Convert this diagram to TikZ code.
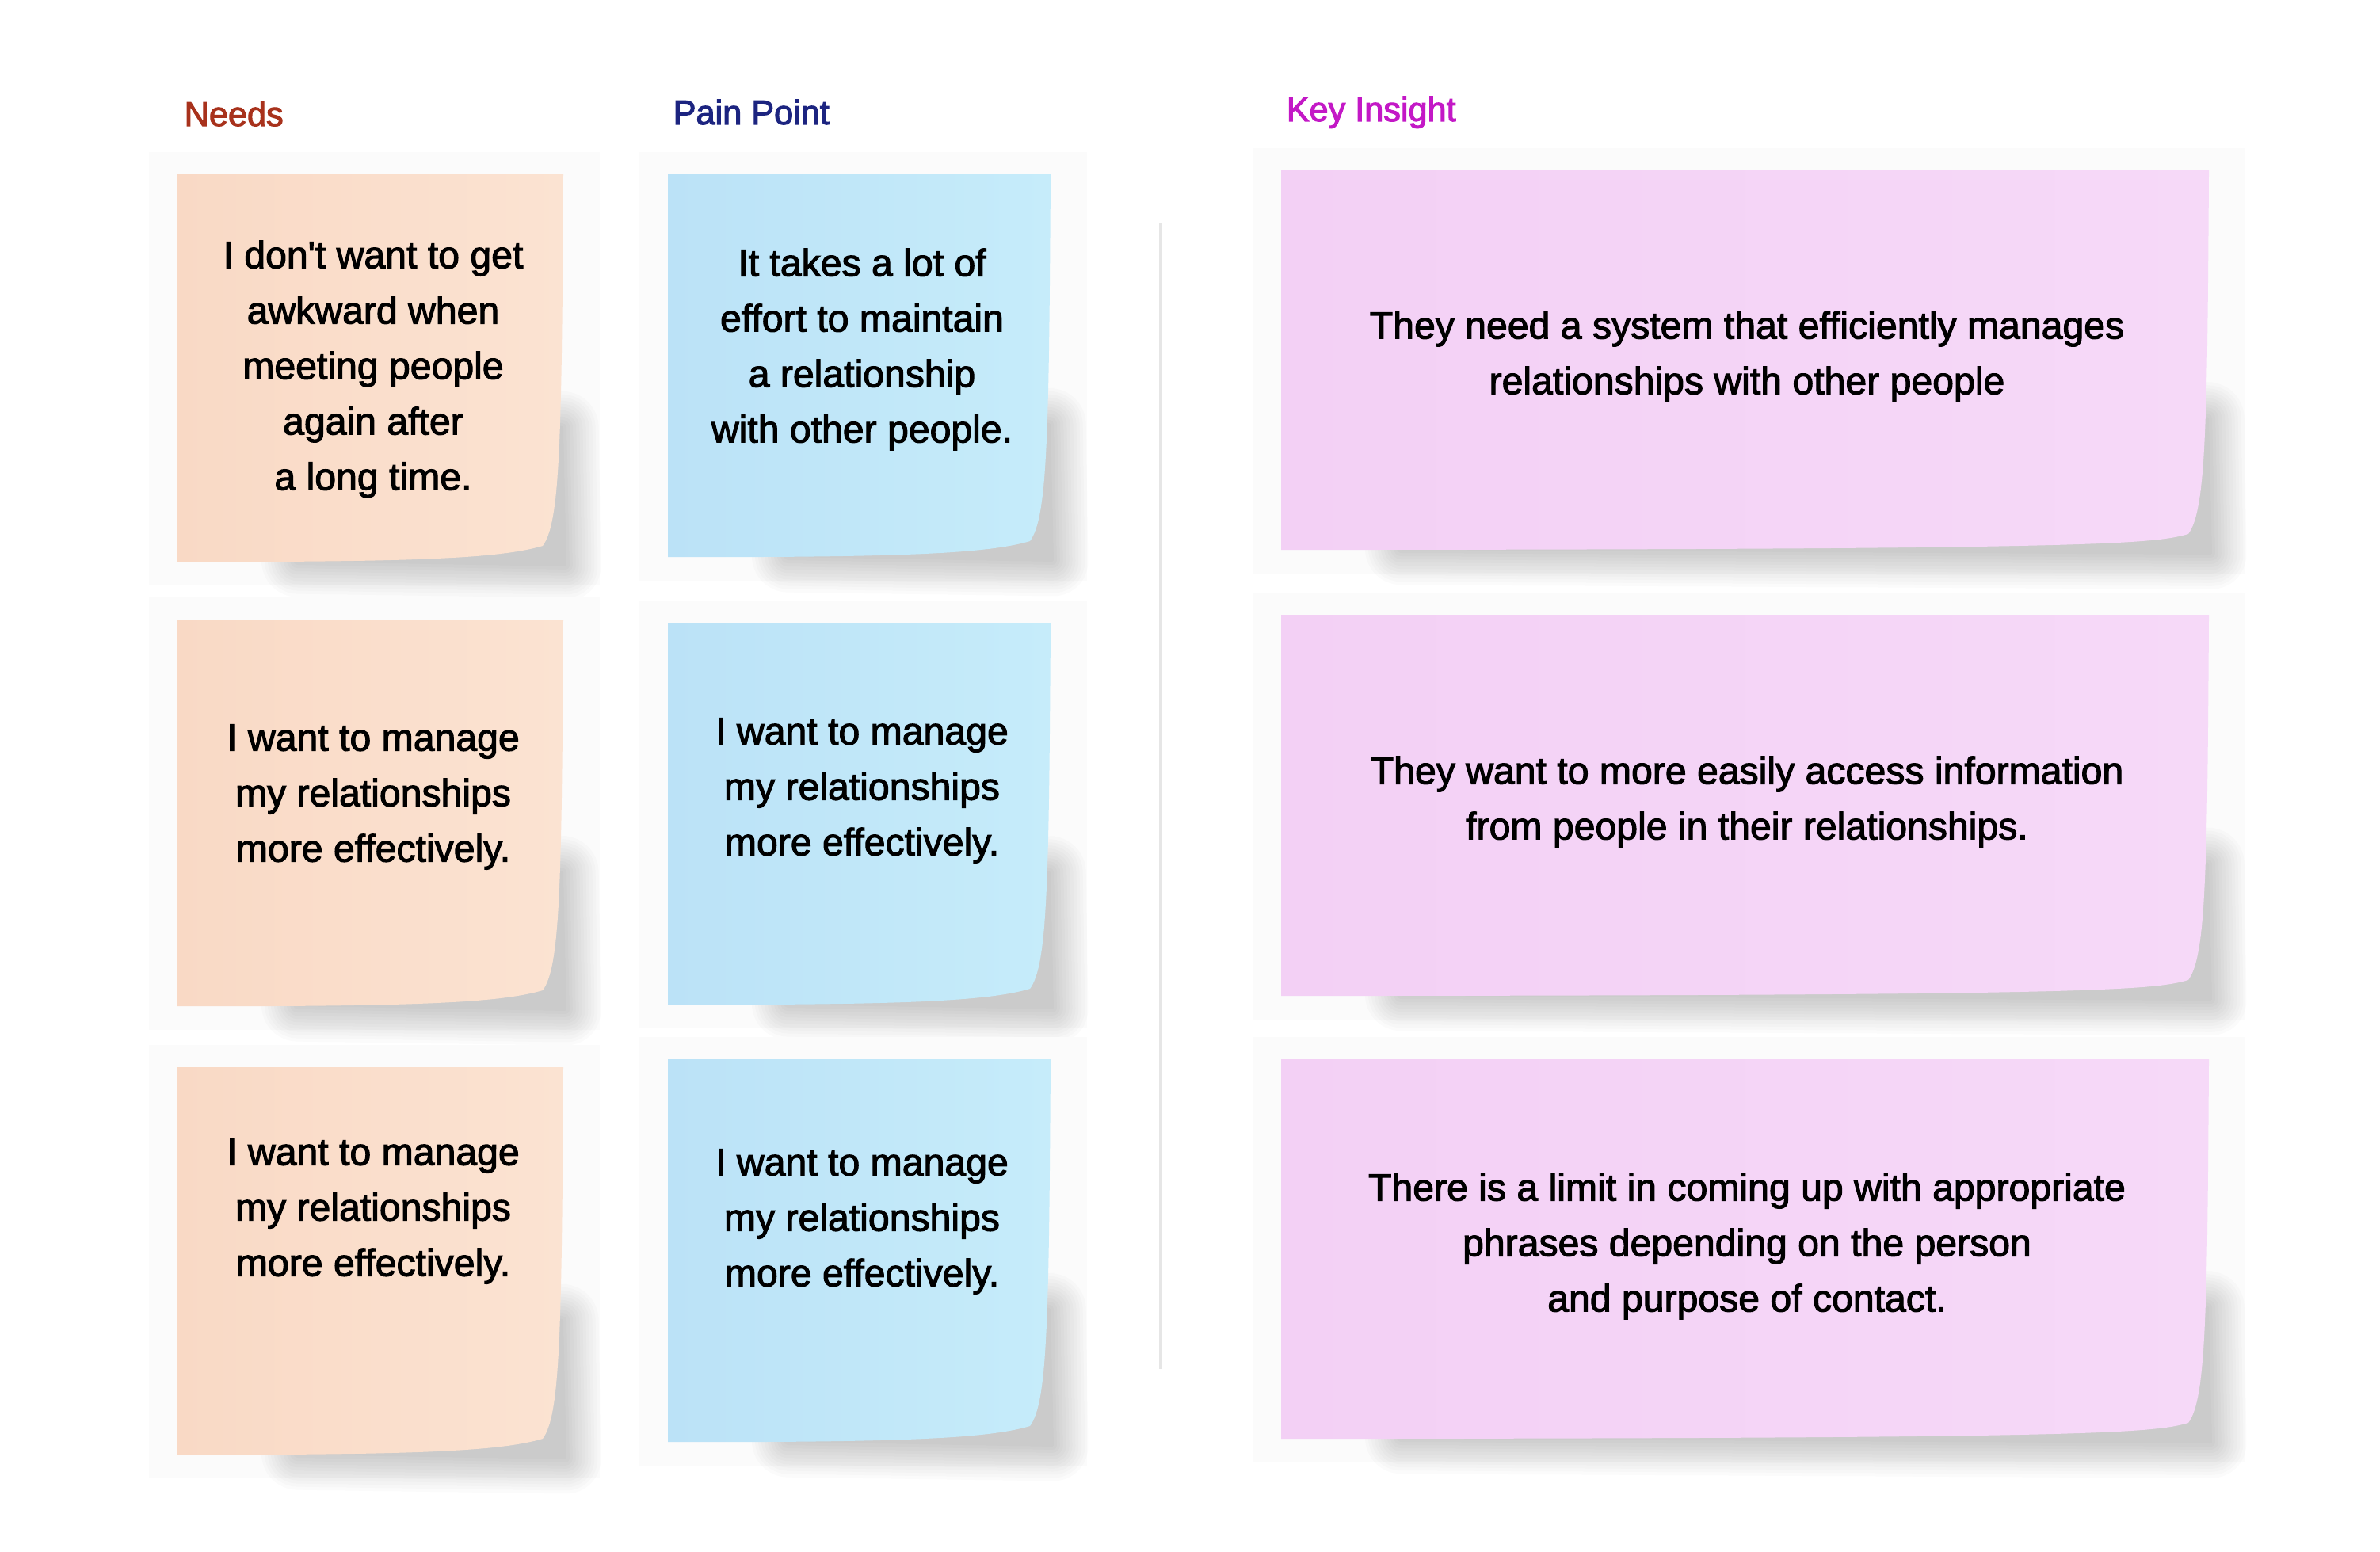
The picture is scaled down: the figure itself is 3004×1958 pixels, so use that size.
\documentclass[tikz,border=0pt]{standalone}
\usepackage{fontspec}
\setmainfont{Liberation Sans}

\definecolor{needshead}{HTML}{A8321C}
\definecolor{painhead}{HTML}{1C2480}
\definecolor{insighthead}{HTML}{C318C6}
\definecolor{needsA}{HTML}{F9D9C5}
\definecolor{needsB}{HTML}{FBE3D2}
\definecolor{painA}{HTML}{BBE2F7}
\definecolor{painB}{HTML}{C6ECFA}
\definecolor{insightA}{HTML}{F3D0F5}
\definecolor{insightB}{HTML}{F6D9F8}
\definecolor{panelbg}{HTML}{FBFBFB}
\definecolor{divider}{HTML}{E6E6E6}

% slightly heavier glyphs: fill and stroke the text outlines
\newcommand{\heavyon}{\special{pdf:literal direct q 2 Tr 0.3 w}}
\newcommand{\heavyoff}{\special{pdf:literal direct Q}}

% a sticky note: x0, y0, x1, y1, left colour, right colour
\newcommand{\stickynote}[6]{%
  \fill[panelbg] ({#1-36},{#2-28}) rectangle ({#3+46},{#4+30});
  % soft shadow under the lifted corner, built from stacked translucent layers
  \foreach \e in {44,40,...,0}{
    \fill[black,opacity=0.016,rounded corners={\e*0.28pt+0.5pt}]
      ({#1+150-\e},{#4-8-\e}) -- ({#3-40},{#2+0.65*(#4-#2)-\e})
      -- ({#3+\e},{#2+0.65*(#4-#2)-\e}) -- ({#3+4+\e},{#4+6+\e})
      -- ({#1+150-\e},{#4+\e}) -- cycle;
  }
  \shade[left color=#5,right color=#6]
    (#1,#2) -- (#3,#2)
    .. controls ({#3-2},{#4-150}) and ({#3-4},{#4-50}) .. ({#3-26},{#4-20})
    .. controls ({#3-70},{#4-7}) and ({#3-150},{#4-1}) .. ({#1+120},{#4})
    -- (#1,#4) -- cycle;
}

\tikzset{
  notetext/.style={font=\fontsize{13.7}{19.9}\selectfont, align=center, inner sep=0pt, text=black,
    execute at begin node=\heavyon, execute at end node=\heavyoff},
  heading/.style={font=\fontsize{12.3}{14}\selectfont, anchor=base west, inner sep=0pt,
    execute at begin node=\heavyon, execute at end node=\heavyoff},
  divline/.style={draw=divider, line width=1.4pt},
}

\begin{document}
\begin{tikzpicture}[x=0.01cm,y=-0.01cm]
\useasboundingbox (0,0) rectangle (3004,1958);
\fill[white] (0,0) rectangle (3004,1958);

% column headings
\node[heading, text=needshead] (hneeds) at (232,159) {Needs};
\node[heading, text=painhead] (hpain) at (849,157) {Pain Point};
\node[heading, text=insighthead] (hinsight) at (1623,153) {Key Insight};

% needs column
\stickynote{224}{220}{711}{709}{needsA}{needsB}
\stickynote{224}{782}{711}{1270}{needsA}{needsB}
\stickynote{224}{1347}{711}{1836}{needsA}{needsB}

% pain point column
\stickynote{843}{220}{1326}{703}{painA}{painB}
\stickynote{843}{786}{1326}{1268}{painA}{painB}
\stickynote{843}{1337}{1326}{1820}{painA}{painB}

% key insight column
\stickynote{1617}{215}{2788}{694}{insightA}{insightB}
\stickynote{1617}{776}{2788}{1257}{insightA}{insightB}
\stickynote{1617}{1337}{2788}{1816}{insightA}{insightB}

% divider between problems and insights
\coordinate (divtop) at (1465,282);
\coordinate (divbot) at (1465,1728);
\draw[divline] (divtop) -- (divbot);

% note texts
\node[notetext] (need1) at (471,466) {I don\textquotesingle t want to get\\awkward when\\meeting people\\again after\\a long time.};
\node[notetext] (need2) at (471,1006) {I want to manage\\my relationships\\more effectively.};
\node[notetext] (need3) at (471,1529) {I want to manage\\my relationships\\more effectively.};

\node[notetext] (pain1) at (1088,441) {It takes a lot of\\effort to maintain\\a relationship\\with other people.};
\node[notetext] (pain2) at (1088,998) {I want to manage\\my relationships\\more effectively.};
\node[notetext] (pain3) at (1088,1542) {I want to manage\\my relationships\\more effectively.};

\node[notetext] (ins1) at (2205,450) {They need a system that efficiently manages\\relationships with other people};
\node[notetext] (ins2) at (2205,1012) {They want to more easily access information\\from people in their relationships.};
\node[notetext] (ins3) at (2205,1573) {There is a limit in coming up with appropriate\\phrases depending on the person\\and purpose of contact.};
\end{tikzpicture}
\end{document}
